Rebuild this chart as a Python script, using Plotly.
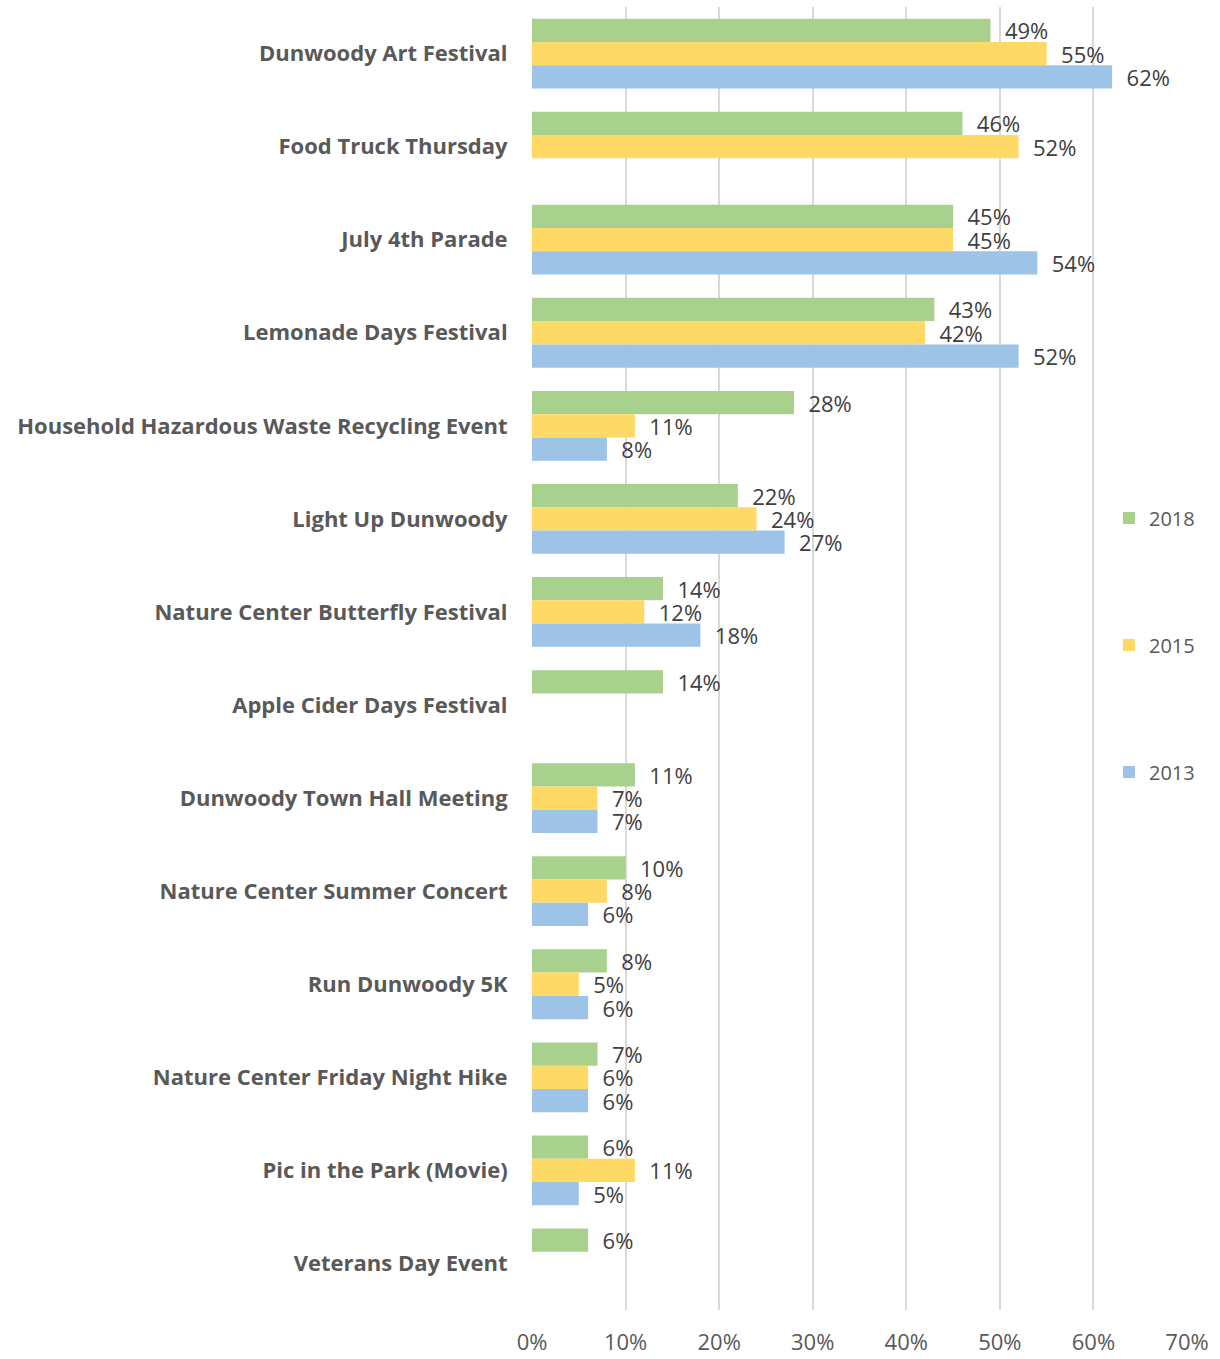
import plotly.graph_objects as go

categories = [
    "Dunwoody Art Festival",
    "Food Truck Thursday",
    "July 4th Parade",
    "Lemonade Days Festival",
    "Household Hazardous Waste Recycling Event",
    "Light Up Dunwoody",
    "Nature Center Butterfly Festival",
    "Apple Cider Days Festival",
    "Dunwoody Town Hall Meeting",
    "Nature Center Summer Concert",
    "Run Dunwoody 5K",
    "Nature Center Friday Night Hike",
    "Pic in the Park (Movie)",
    "Veterans Day Event",
]
values_2018 = [49, 46, 45, 43, 28, 22, 14, 14, 11, 10, 8, 7, 6, 6]
values_2015 = [55, 52, 45, 42, 11, 24, 12, None, 7, 8, 5, 6, 11, None]
values_2013 = [62, None, 54, 52, 8, 27, 18, None, 7, 6, 6, 6, 5, None]
series_names = ["2018", "2015", "2013"]
tick_values = [0, 10, 20, 30, 40, 50, 60, 70]
tick_labels = ["0%", "10%", "20%", "30%", "40%", "50%", "60%", "70%"]

colors = ["#A9D18E", "#FFD966", "#9DC3E6"]
W, H = 1220, 1359

fig = go.Figure()
for name, vals, col in zip(series_names, [values_2018, values_2015, values_2013], colors):
    fig.add_trace(go.Bar(
        y=categories,
        x=vals,
        name=name,
        orientation="h",
        marker=dict(color=col, line=dict(width=0)),
        text=[None if v is None else f"{v}%" for v in vals],
        texttemplate="  %{text}",
        textposition="outside",
        constraintext="none",
        cliponaxis=False,
        textfont=dict(family="Open Sans", size=22, color="#404040"),
        legendgroup=name,
    ))

fig.update_layout(
    width=W, height=H,
    barmode="group",
    bargap=0.25,
    bargroupgap=0,
    plot_bgcolor="white",
    paper_bgcolor="white",
    margin=dict(l=532, r=33, t=7, b=49, autoexpand=False),
    font=dict(family="Open Sans", color="#595959"),
    legend=dict(
        xref="container", yref="container",
        x=1109 / W, y=1 - 645 / H,
        xanchor="left", yanchor="middle",
        bgcolor="rgba(0,0,0,0)",
        font=dict(family="Open Sans", size=20, color="#595959"),
        tracegroupgap=98,
        itemwidth=30,
    ),
    xaxis=dict(
        range=[0, 70],
        tickvals=tick_values,
        ticktext=tick_labels,
        showgrid=True,
        gridcolor="#D9D9D9",
        gridwidth=2,
        zeroline=False,
        showline=False,
        ticks="outside",
        ticklen=13,
        tickcolor="rgba(0,0,0,0)",
        tickfont=dict(family="Open Sans", size=22, color="#595959"),
        fixedrange=True,
    ),
    yaxis=dict(
        autorange="reversed",
        showgrid=False,
        zeroline=False,
        showline=False,
        ticks="outside",
        ticklen=19,
        tickcolor="rgba(0,0,0,0)",
        tickfont=dict(family="Open Sans", size=22, color="#595959", weight="bold"),
        fixedrange=True,
    ),
)

fig.write_html(
    "out.html",
    config={"displayModeBar": False},
    post_script="document.body.style.margin='0px';document.body.style.overflow='hidden';",
)
